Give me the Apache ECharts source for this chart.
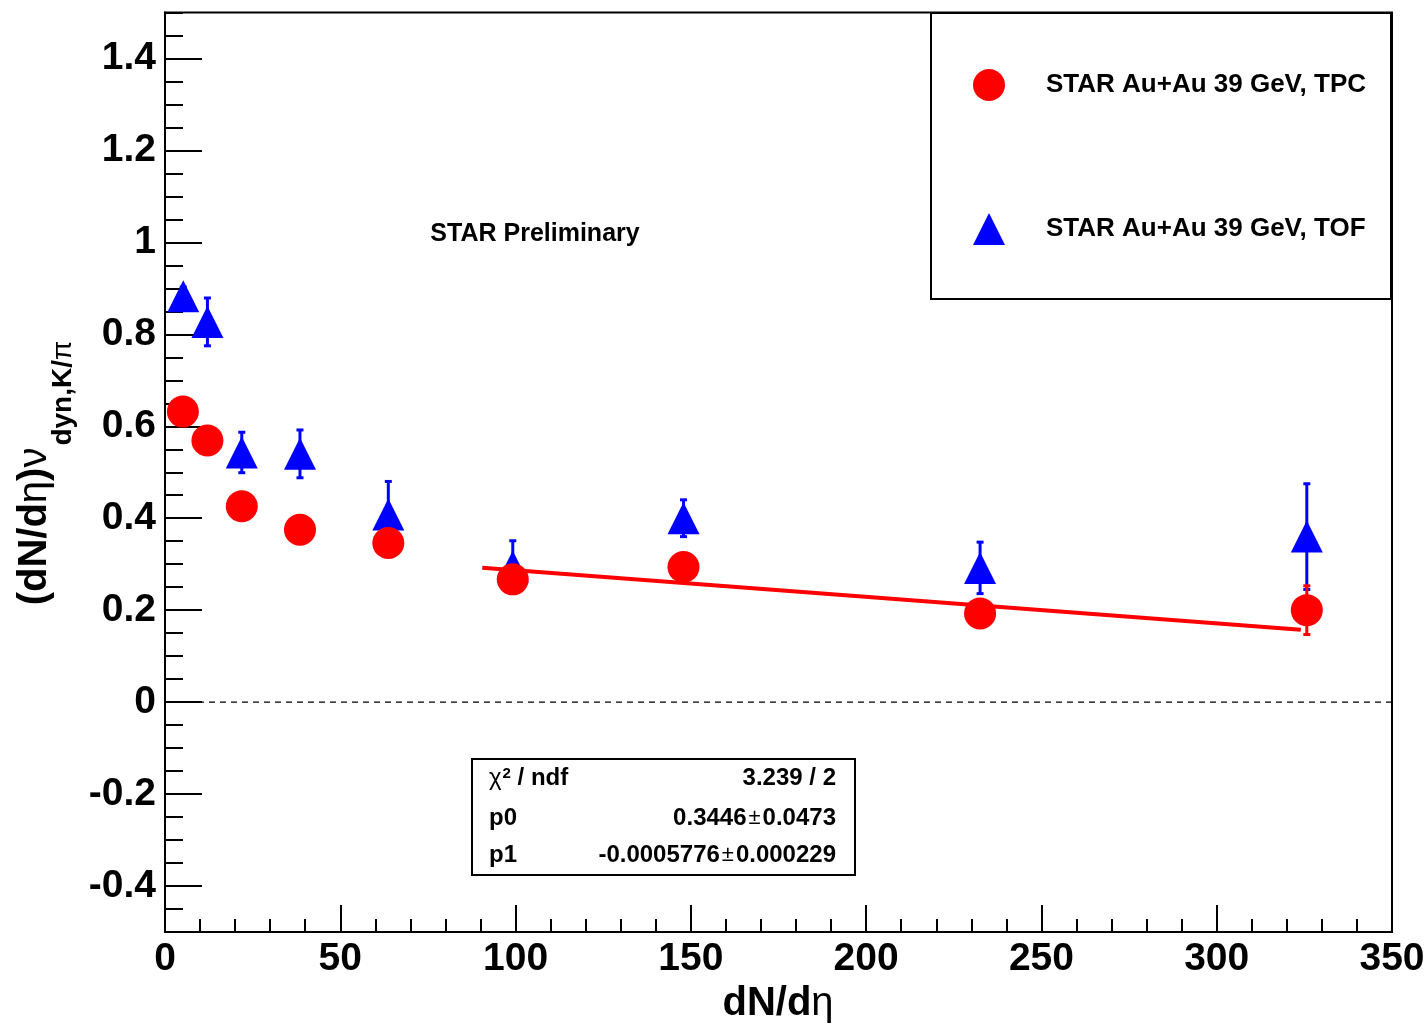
<!DOCTYPE html>
<html>
<head>
<meta charset="utf-8">
<title>STAR Au+Au 39 GeV: (dN/dη)ν_dyn,K/π vs dN/dη</title>
<script src="https://cdn.jsdelivr.net/npm/echarts@6/dist/echarts.min.js"></script>
<style>
  html, body { margin: 0; padding: 0; background: #fff; }
  #chart { width: 1428px; height: 1026px; }
</style>
</head>
<body>
<div id="chart"></div>
<script>
// ---- data ----
// TPC measurement (red circles)
const tpcX   = [5.1, 12.1, 21.9, 38.5, 63.7, 99.2, 147.9, 232.5, 325.7];
const tpcY   = [0.632, 0.569, 0.426, 0.375, 0.346, 0.267, 0.294, 0.193, 0.200];
const tpcErr = [0.018, 0.018, 0.020, 0.022, 0.022, 0.030, 0.025, 0.022, 0.053];

// TOF measurement (blue triangles)
const tofX   = [5.2, 12.1, 21.9, 38.5, 63.7, 99.2, 147.9, 232.5, 325.7];
const tofY   = [0.883, 0.827, 0.543, 0.540, 0.408, 0.295, 0.400, 0.292, 0.360];
const tofErr = [0.020, 0.052, 0.044, 0.052, 0.072, 0.056, 0.040, 0.056, 0.115];

// linear fit p0 + p1*x to the TPC points
const fitP0 = 0.3446, fitP0Err = 0.0473;
const fitP1 = -0.0005776, fitP1Err = 0.000229;
const fitChi2 = 3.239, fitNdf = 2;
const fitRange = [90.5, 324];

// axis ticks
const xTicks = [0, 50, 100, 150, 200, 250, 300, 350];
const yTicks = [-0.4, -0.2, 0, 0.2, 0.4, 0.6, 0.8, 1, 1.2, 1.4];
const zeroLine = [[0, 0], [350, 0]];

const seriesNames = ['STAR Au+Au 39 GeV, TPC', 'STAR Au+Au 39 GeV, TOF'];

// ---- drawing ----
const FONT = "'Liberation Sans', Arial, Helvetica, sans-serif";
const RED = '#ff0000', BLUE = '#0000ff';

function measure(parts) {
  const ctx = document.createElement('canvas').getContext('2d');
  let w = 0;
  parts.forEach(p => { ctx.font = p[1]; w += ctx.measureText(p[0]).width; });
  return w;
}

function errorBars(color) {
  return function (params, api) {
    const x = api.value(0), y = api.value(1), e = api.value(2);
    const top = api.coord([x, y + e]);
    const bot = api.coord([x, y - e]);
    const cap = 3.5;
    const st = { stroke: color, lineWidth: 3 };
    return {
      type: 'group',
      children: [
        { type: 'line', shape: { x1: top[0], y1: top[1], x2: bot[0], y2: bot[1] }, style: st },
        { type: 'line', shape: { x1: top[0] - cap, y1: top[1], x2: top[0] + cap, y2: top[1] }, style: st },
        { type: 'line', shape: { x1: bot[0] - cap, y1: bot[1], x2: bot[0] + cap, y2: bot[1] }, style: st }
      ]
    };
  };
}

const fitLine = fitRange.map(x => [x, fitP0 + fitP1 * x]);

const fmtTick = v => String(Math.round(v * 10) / 10);

// y title: (dN/dη)ν with subscript dyn,K/π
const mainW = measure([
  ['(dN/d', 'bold 40px ' + FONT], ['η', '40px ' + FONT],
  [')', 'bold 40px ' + FONT], ['ν', '40px ' + FONT]
]);
const subW = measure([['dyn,K/', 'bold 28px ' + FONT], ['π', '28px ' + FONT]]);
const titleW = mainW + subW + 2;

const chart = echarts.init(document.getElementById('chart'), null, { renderer: 'canvas' });

chart.setOption({
  animation: false,
  backgroundColor: '#fff',
  grid: {
    left: 165, top: 12.5, right: 36, bottom: 94,
    show: true, borderColor: '#000', borderWidth: 2, backgroundColor: 'transparent'
  },
  xAxis: {
    type: 'value', min: 0, max: 350, interval: 50,
    axisLine: { show: true, onZero: false, lineStyle: { color: '#000', width: 2 } },
    axisTick: { show: true, inside: true, length: 27, lineStyle: { color: '#000', width: 2 } },
    minorTick: { show: true, splitNumber: 5, length: 13, lineStyle: { color: '#000', width: 2 } },
    axisLabel: {
      customValues: xTicks, showMinLabel: true, showMaxLabel: true,
      fontSize: 39, fontWeight: 'bold', color: '#000', fontFamily: FONT, margin: 8
    },
    splitLine: { show: false }, minorSplitLine: { show: false }
  },
  yAxis: [
    {
      type: 'value', min: -0.5, max: 1.5, interval: 0.05, position: 'left',
      axisLine: { show: true, onZero: false, lineStyle: { color: '#000', width: 2 } },
      axisTick: { show: true, inside: true, length: 18, lineStyle: { color: '#000', width: 2 } },
      axisLabel: {
        customValues: yTicks, formatter: fmtTick,
        fontSize: 39, fontWeight: 'bold', color: '#000', fontFamily: FONT, margin: 9
      },
      splitLine: { show: false }
    },
    {
      type: 'value', min: -0.5, max: 1.5, position: 'left', offset: 0,
      axisLine: { show: false, onZero: false },
      axisTick: { show: true, inside: true, length: 37, customValues: yTicks, lineStyle: { color: '#000', width: 2 } },
      axisLabel: { show: false },
      splitLine: { show: false }
    }
  ],
  legend: {
    data: seriesNames,
    orient: 'vertical',
    left: 973, top: 69,
    padding: 0,
    itemWidth: 32, itemHeight: 32, itemGap: 112,
    selectedMode: false,
    textStyle: { fontSize: 26, fontWeight: 'bold', color: '#000', fontFamily: FONT, padding: [0, 0, 0, 36] }
  },
  series: [
    {
      name: 'zero', type: 'line', data: zeroLine, showSymbol: false, silent: true,
      lineStyle: { color: '#000', width: 1.2, type: [6, 5] }
    },
    {
      name: 'tofErr', type: 'custom', renderItem: errorBars(BLUE), silent: true,
      data: tofX.map((x, i) => [x, tofY[i], tofErr[i]])
    },
    {
      name: seriesNames[1], type: 'scatter', symbol: 'triangle', symbolSize: 32,
      itemStyle: { color: BLUE, opacity: 1 },
      data: tofX.map((x, i) => [x, tofY[i]])
    },
    {
      name: 'tpcErr', type: 'custom', renderItem: errorBars(RED), silent: true,
      data: tpcX.map((x, i) => [x, tpcY[i], tpcErr[i]])
    },
    {
      name: seriesNames[0], type: 'scatter', symbol: 'circle', symbolSize: 32,
      itemStyle: { color: RED, opacity: 1 },
      data: tpcX.map((x, i) => [x, tpcY[i]])
    },
    {
      name: 'fit', type: 'line', data: fitLine, showSymbol: false, silent: true,
      lineStyle: { color: RED, width: 4 }
    }
  ],
  graphic: [
    // legend frame
    {
      type: 'rect', shape: { x: 931, y: 13, width: 460, height: 286 },
      style: { fill: 'none', stroke: '#000', lineWidth: 2 }
    },
    {
      type: 'text', x: 535, y: 234,
      style: { text: 'STAR Preliminary', font: 'bold 25px ' + FONT, fill: '#000', align: 'center', verticalAlign: 'middle' }
    },
    // fit statistics box
    {
      type: 'rect', shape: { x: 472, y: 759, width: 383, height: 116 },
      style: { fill: 'none', stroke: '#000', lineWidth: 2 }
    },
    {
      type: 'text', x: 489, y: 778,
      style: {
        text: '{g|χ}{s|2}{b| / ndf}', align: 'left', verticalAlign: 'middle', fill: '#000',
        rich: {
          g: { fontSize: 24, fontFamily: FONT },
          s: { fontSize: 15, fontWeight: 'bold', fontFamily: FONT, verticalAlign: 'top', padding: [0, 0, 8, 1] },
          b: { fontSize: 24, fontWeight: 'bold', fontFamily: FONT }
        }
      }
    },
    {
      type: 'text', x: 836, y: 778,
      style: { text: fitChi2.toFixed(3) + ' / ' + fitNdf, font: 'bold 24px ' + FONT, fill: '#000', align: 'right', verticalAlign: 'middle' }
    },
    {
      type: 'text', x: 489, y: 818,
      style: { text: 'p0', font: 'bold 24px ' + FONT, fill: '#000', align: 'left', verticalAlign: 'middle' }
    },
    {
      type: 'text', x: 836, y: 818,
      style: {
        text: '{b|' + fitP0 + '}{p|±}{b|' + fitP0Err + '}', align: 'right', verticalAlign: 'middle', fill: '#000',
        rich: {
          b: { fontSize: 24, fontWeight: 'bold', fontFamily: FONT },
          p: { fontSize: 22, fontFamily: FONT, padding: [0, 2, 0, 2] }
        }
      }
    },
    {
      type: 'text', x: 489, y: 855,
      style: { text: 'p1', font: 'bold 24px ' + FONT, fill: '#000', align: 'left', verticalAlign: 'middle' }
    },
    {
      type: 'text', x: 836, y: 855,
      style: {
        text: '{b|' + fitP1.toFixed(7) + '}{p|±}{b|' + fitP1Err + '}', align: 'right', verticalAlign: 'middle', fill: '#000',
        rich: {
          b: { fontSize: 24, fontWeight: 'bold', fontFamily: FONT },
          p: { fontSize: 22, fontFamily: FONT, padding: [0, 2, 0, 2] }
        }
      }
    },
    // x axis title
    {
      type: 'text', x: 778, y: 1004,
      style: {
        text: '{b|dN/d}{g|η}', align: 'center', verticalAlign: 'middle', fill: '#000',
        rich: {
          b: { fontSize: 40, fontWeight: 'bold', fontFamily: FONT },
          g: { fontSize: 40, fontFamily: FONT }
        }
      }
    },
    // y axis title
    {
      type: 'group', x: 35, y: 473, rotation: Math.PI / 2,
      children: [
        {
          type: 'text', x: -titleW / 2, y: 0,
          style: {
            text: '{b|(dN/d}{g|η}{b|)}{g|ν}', align: 'left', verticalAlign: 'middle', fill: '#000',
            rich: {
              b: { fontSize: 40, fontWeight: 'bold', fontFamily: FONT },
              g: { fontSize: 40, fontFamily: FONT }
            }
          }
        },
        {
          type: 'text', x: -titleW / 2 + mainW + 2, y: 28,
          style: {
            text: '{b|dyn,K/}{g|π}', align: 'left', verticalAlign: 'middle', fill: '#000',
            rich: {
              b: { fontSize: 28, fontWeight: 'bold', fontFamily: FONT },
              g: { fontSize: 28, fontFamily: FONT }
            }
          }
        }
      ]
    }
  ]
});
</script>
</body>
</html>
